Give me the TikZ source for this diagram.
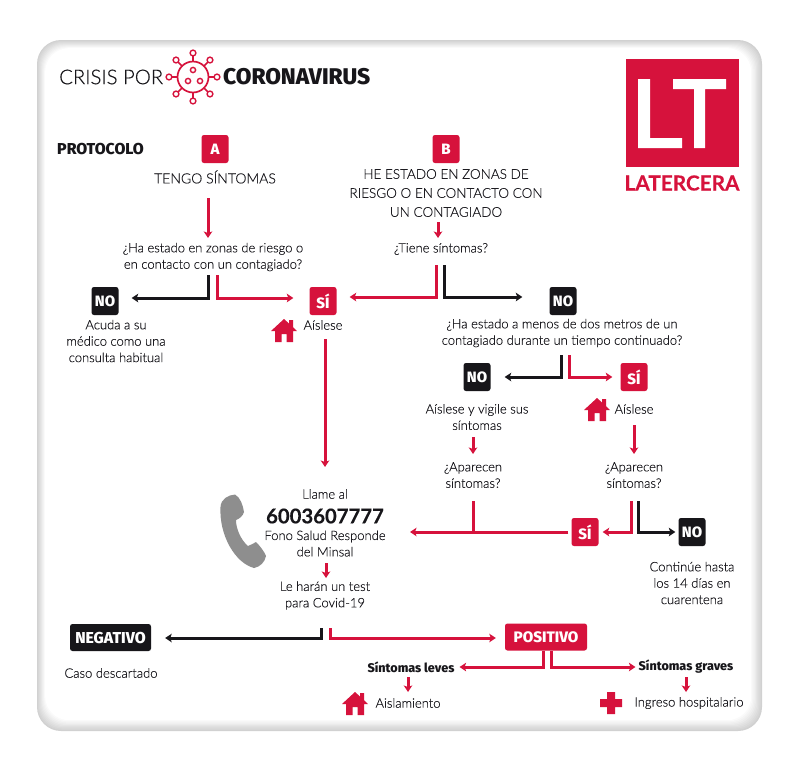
\documentclass[tikz,border=0pt]{standalone}
\usepackage{fontspec}
\setmainfont{Lato}[UprightFont=* Light,BoldFont=* Bold,FakeBold=0.25]
\newfontfamily\bodyf{Lato}[UprightFont=* Light,AutoFakeBold=0,RawFeature={embolden=0.3}]
\newfontfamily\heavy{Fira Sans}[UprightFont=* ExtraBold]
\usetikzlibrary{arrows.meta,calc}
\definecolor{ltred}{HTML}{D6123C}
\definecolor{ltblack}{HTML}{17161A}
\definecolor{ink}{HTML}{1C1B20}
\definecolor{phonegrey}{HTML}{8E8E8E}
\tikzset{
 txt/.style={align=center,inner sep=0pt,text=ink,font=\fontsize{13}{16.4}\bodyf},
 capstxt/.style={txt,font=\fontsize{13.5}{19}\bodyf},
 boldtxt/.style={inner sep=0pt,text=ltblack,font=\fontsize{12.6}{16}\heavy},
 rbox/.style={fill=ltred,rounded corners=2.5pt,minimum width=27pt,minimum height=28pt,inner sep=0pt,text=white,font=\fontsize{15}{16}\heavy},
 kbox/.style={rbox,fill=ltblack},
 rarrow/.style={draw=ltred,line width=3pt,-{Stealth[length=6.5pt,width=8.5pt,inset=1.5pt]}},
 karrow/.style={rarrow,draw=ltblack},
 rline/.style={draw=ltred,line width=3pt},
 house/.pic={\fill[ltred] (-13,1)--(0,-11)--(5,-6.5)--(5,-10)--(9,-10)--(9,-3)--(13,1)--(9,1)--(9,12)--(2.5,12)--(2.5,4)--(-2.5,4)--(-2.5,12)--(-9,12)--(-9,1)--cycle;}
}
\begin{document}
\begin{tikzpicture}[x=1pt,y=-1pt]
\useasboundingbox (0,0) rectangle (800,769);
\fill[white] (0,0) rectangle (800,769);
% panel with soft edge
\foreach \i/\c in {0/18,1/16,2/14,3/12,4/10,5/8,6/6,7/4,8/2,9/0}{
 \fill[black!\c!white,rounded corners=24pt] (37+0.9*\i,40+0.9*\i) rectangle (762-1.2*\i,731-1.2*\i);
}
% title
\node[anchor=west,inner sep=0pt,text=ltblack,font=\fontsize{20.3}{24}\bodyf] (crisis) at (59,77) {CRISIS POR};
\begin{scope}[draw=ltred,line width=1.7pt]
 \draw (193,77) circle (15.5);
 \foreach \a in {0,45,...,315}{
  \draw ($(193,77)+(\a:15.5)$) -- ($(193,77)+(\a:21)$);
  \draw[fill=white,line width=1.4pt] ($(193,77)+(\a:24)$) circle (2.9);
 }
 \draw[line width=1.4pt] (193,70) circle (2.6) (188,81) circle (2.6) (200,81) circle (2.6);
\end{scope}
\node[anchor=west,inner sep=0pt,text=ltblack,font=\fontsize{22.7}{24}\heavy] (corona) at (223,77) {CORONAVIRUS};
\node[anchor=west,boldtxt,font=\fontsize{15.8}{16}\heavy] (proto) at (57,149) {PROTOCOLO};
% logo
\fill[ltred] (626,59) rectangle (739,167);
\fill[white] (638,79)--(650,79)--(650,138)--(682,138)--(682,148)--(638,148)--cycle;
\fill[white] (673,79)--(726,79)--(726,89)--(705,89)--(705,148)--(694,148)--(694,89)--(673,89)--cycle;
\node[inner sep=0pt,text=ltred,font=\fontsize{20.8}{22}\bfseries] (lt) at (682,183) {LATERCERA};
% A column
\node[rbox] (A) at (215,149) {A};
\node[capstxt,font=\fontsize{14}{19}\bodyf] (tA) at (215,177) {TENGO SÍNTOMAS};
\node[txt] (qA) at (213,257) {¿Ha estado en zonas de riesgo o\\en contacto con un contagiado?};
\node[kbox] (noA) at (105,301) {NO};
\node[txt] (noAt) at (116,341) {Acuda a su\\médico como una\\consulta habitual};
\node[rbox] (siA) at (323,301) {SÍ};
\node[txt] (siAt) at (323,325) {Aíslese};
\pic at (284,330) {house};
% B column
\node[rbox] (B) at (446,149) {B};
\node[capstxt] (tB) at (446,193) {HE ESTADO EN ZONAS DE\\RIESGO O EN CONTACTO CON\\UN CONTAGIADO};
\node[txt] (qB) at (441,249) {¿Tiene síntomas?};
\node[kbox] (noB) at (563,301) {NO};
\node[txt] (qC) at (562,333) {¿Ha estado a menos de dos metros de un\\contagiado durante un tiempo continuado?};
\node[kbox] (noC) at (477,377) {NO};
\node[rbox] (siC) at (634,377) {SÍ};
\node[txt] (noCt) at (477,417) {Aíslese y vigile sus\\síntomas};
\node[txt] (siCt) at (634,409) {Aíslese};
\pic at (597,409) {house};
\node[txt] (qD) at (473,475) {¿Aparecen\\síntomas?};
\node[txt] (qE) at (634,475) {¿Aparecen\\síntomas?};
\node[rbox] (siE) at (585,532) {SÍ};
\node[kbox] (noE) at (692,532) {NO};
\node[txt] (noEt) at (692,583) {Continúe hasta\\los 14 días en\\cuarentena};
% call
\node[txt] (llame) at (325,494) {Llame al};
\node[inner sep=0pt,text=ltblack,font=\fontsize{20.3}{24}\bfseries] (tel) at (325,516) {6003607777};
\node[txt] (fono) at (325,543.5) {Fono Salud Responde\\del Minsal};
\node[txt] (test) at (325,595.5) {Le harán un test\\para Covid-19};
\fill[phonegrey] (220.5,507) .. controls (221,499) and (228,495) .. (235,494.5)
 .. controls (240,497) and (243,505) .. (244,512)
 .. controls (243,516) and (239,519) .. (236,520)
 .. controls (236,529) and (241,540) .. (248,546)
 .. controls (251,545) and (254,543) .. (256,542)
 .. controls (260,546) and (264,551) .. (266,556)
 .. controls (265,562) and (260,567) .. (254,568)
 .. controls (235,563) and (219,535) .. (220.5,507) -- cycle;
% results
\node[kbox,minimum width=81pt,minimum height=27pt,font=\fontsize{15.8}{16}\heavy] (neg) at (110.5,637.5) {NEGATIVO};
\node[rbox,minimum width=82pt,minimum height=27pt,font=\fontsize{15.2}{16}\heavy] (pos) at (546,637) {POSITIVO};
\node[txt] (caso) at (111,673) {Caso descartado};
\node[boldtxt] (leves) at (411,667) {Síntomas leves};
\node[boldtxt] (graves) at (686,667) {Síntomas graves};
\node[txt] (aisl) at (408,703) {Aislamiento};
\pic at (355,703) {house};
\node[txt] (ingr) at (689,703) {Ingreso hospitalario};
\fill[ltred] (607,692)--(615,692)--(615,699)--(622,699)--(622,707)--(615,707)--(615,714)--(607,714)--(607,707)--(600,707)--(600,699)--(607,699)--cycle;
% connector free ends
\coordinate (a1) at (208,198);
\coordinate (a2) at (208,238);
\coordinate (a3) at (208,275);
\coordinate (a4) at (217,275);
\coordinate (b1) at (438,222);
\coordinate (b2) at (438,238);
\coordinate (b3) at (436,265);
\coordinate (b4) at (444,265);
\coordinate (c1) at (561,355);
\coordinate (c2) at (569,355);
\coordinate (d1) at (473,437);
\coordinate (d2) at (473,454);
\coordinate (e1) at (634,425);
\coordinate (e2) at (634,454);
\coordinate (f1) at (631,501);
\coordinate (f2) at (638,501);
\coordinate (g1) at (473,501);
\coordinate (g2) at (473,532);
\coordinate (h1) at (325,339);
\coordinate (h2) at (325,467);
\coordinate (i1) at (326,563);
\coordinate (i2) at (326,578);
\coordinate (j1) at (321,628);
\coordinate (j2) at (330,628);
\coordinate (k1) at (408,677);
\coordinate (k2) at (408,692);
\coordinate (l1) at (686,677);
\coordinate (l2) at (686,692);
\coordinate (m1) at (410,532);
% connectors
\draw[rarrow] (a1) -- (a2);
\draw[karrow] (a3) |- ([shift={(13,-3)}]noA.east);
\draw[rarrow] (a4) |- ([shift={(-16,-3)}]siA.west);
\draw[rarrow] (b1) -- (b2);
\draw[rarrow] (b3) |- ([shift={(13,-4)}]siA.east);
\draw[karrow] (b4) |- ([shift={(-27,-4)}]noB.west);
\draw[karrow] (c1) |- ([shift={(14,0)}]noC.east);
\draw[rarrow] (c2) |- ([shift={(-8,0)}]siC.west);
\draw[rarrow] (d1) -- (d2);
\draw[rarrow] (e1) -- (e2);
\draw[rarrow] (f1) |- ([shift={(4,0)}]siE.east);
\draw[karrow] (f2) |- ([shift={(-3,0)}]noE.west);
\draw[rarrow] ([shift={(-3,0)}]siE.west) -- (m1);
\draw[rline] (g1) -- (g2);
\draw[rarrow] (h1) -- (h2);
\draw[rarrow] (i1) -- (i2);
\draw[karrow] (j1) |- ([shift={(14,0.5)}]neg.east);
\draw[rarrow] (j2) |- ([shift={(-9,1)}]pos.west);
\draw[rarrow] ([xshift=-3pt]pos.south) |- ([shift={(5,0)}]leves.east);
\draw[rarrow] ([xshift=5pt]pos.south) |- ([shift={(-3,0)}]graves.west);
\draw[rarrow] (k1) -- (k2);
\draw[rarrow] (l1) -- (l2);
\end{tikzpicture}
\end{document}
